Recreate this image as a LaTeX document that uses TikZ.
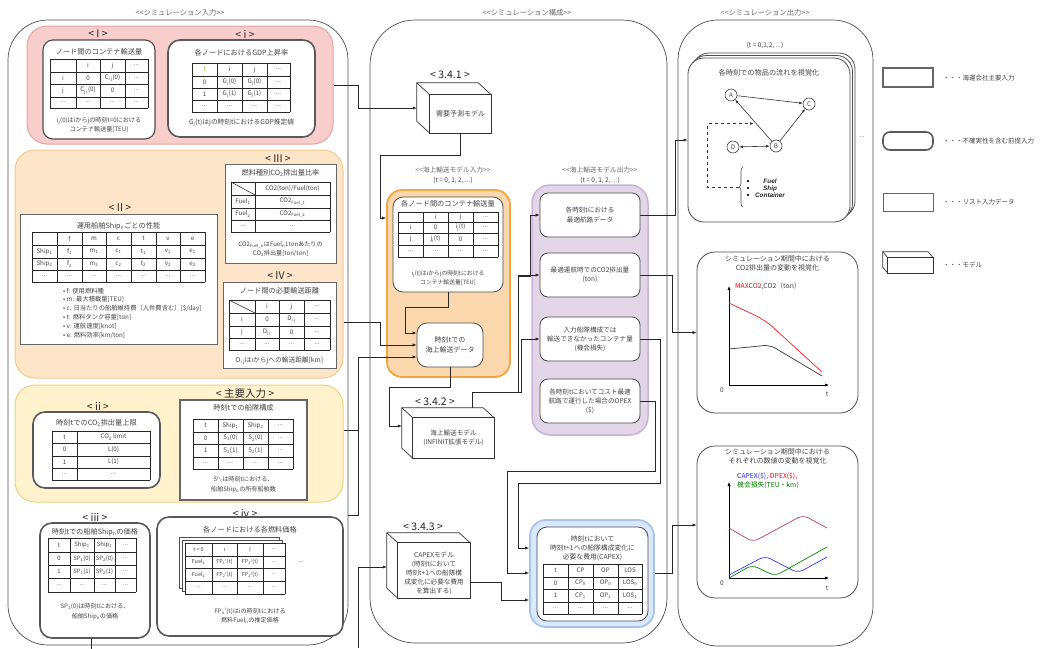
\documentclass[tikz,border=0pt]{standalone}
\usepackage{fontspec}
\setmainfont{Noto Sans CJK JP}
\newfontfamily\latinsans{Liberation Sans}
\usetikzlibrary{calc,arrows.meta,decorations.pathreplacing}

\definecolor{tg}{HTML}{444444}
\definecolor{tyel}{HTML}{C9A800}
\definecolor{pinkF}{HTML}{F8CECC}\definecolor{pinkD}{HTML}{E6A3A0}
\definecolor{peachF}{HTML}{FDE5CA}\definecolor{peachD}{HTML}{F3C98B}
\definecolor{yelF}{HTML}{FFF2CC}\definecolor{yelD}{HTML}{EED27F}
\definecolor{orF}{HTML}{FAD7AC}\definecolor{orD}{HTML}{F2A541}
\definecolor{purF}{HTML}{E1D5E7}\definecolor{purD}{HTML}{C9B3D6}
\definecolor{bluF}{HTML}{DAE8FC}\definecolor{bluD}{HTML}{A9C4EB}
\definecolor{crim}{HTML}{B5405F}

\newcommand\dd{...}
\newcommand\ssp[2]{\textsubscript{#1}\textsuperscript{#2}}

% grid table: #1 name prefix, #2 column edges, #3 row edges, #4 rows of cells
\newcommand\gtab[4]{%
  \pgfmathsetmacro\qxl{{#2}[0]}%
  \pgfmathsetmacro\qxr{{#2}[dim({#2})-1]}%
  \pgfmathsetmacro\qyt{{#3}[0]}%
  \pgfmathsetmacro\qyb{{#3}[dim({#3})-1]}%
  \foreach \qx in {#2} {\draw[tabline] (\qx,\qyt) -- (\qx,\qyb);}%
  \foreach \qy in {#3} {\draw[tabline] (\qxl,\qy) -- (\qxr,\qy);}%
  \foreach \qrow [count=\qr from 0] in {#4} {%
    \foreach \qcell [count=\qc from 0] in \qrow {%
      \pgfmathtruncatemacro\qcn{\qc+1}%
      \pgfmathtruncatemacro\qrn{\qr+1}%
      \pgfmathsetmacro\qxa{{#2}[\qc]}%
      \pgfmathsetmacro\qxb{{#2}[\qcn]}%
      \pgfmathsetmacro\qya{{#3}[\qr]}%
      \pgfmathsetmacro\qyb{{#3}[\qrn]}%
      \node[cell] (#1-\qr-\qc) at ({(\qxa+\qxb)/2},{(\qya+\qyb)/2}) {\qcell};%
    }%
  }%
}

% model block: #1 name, #2 x, #3 y, #4 w, #5 h, #6 dx, #7 dy, #8 text
\newcommand\cuboid[8]{%
  \path (#2,#3) node[minimum width=#4pt, minimum height=#5pt] (#1) {};
  \draw[face] (#1.south west) -- ++(#6,#7) -- ($(#1.north west)+(#6,#7)$)
     -- ($(#1.north east)+(#6,#7)$) -- (#1.north east) -- cycle;
  \draw[face] (#1.south west) rectangle (#1.north east);
  \draw[face] (#1.north west) -- ++(#6,#7);
  \node[mtxt] (#1-t) at (#1.center) {#8};
}

\begin{document}
\begin{tikzpicture}[x=1pt,y=-1pt,
  every node/.style={inner sep=0pt, text=tg},
  wh/.style 2 args={minimum width=#1pt, minimum height=#2pt},
  hdr/.style={font=\fontsize{7.3}{9}\selectfont, text=black!60},
  lbl/.style={font=\fontsize{10.5}{12}\selectfont, text=black!85},
  ttl/.style={font=\fontsize{7.2}{8}\selectfont},
  captx/.style={font=\fontsize{6.1}{9.5}\selectfont, align=center},
  cell/.style={font=\fontsize{6.2}{7}\selectfont},
  mtxt/.style={font=\fontsize{6.6}{9.5}\selectfont, align=center},
  tabline/.style={draw=black!85, line width=0.55pt},
  cont/.style={draw=black!70, line width=0.7pt, rounded corners=40pt},
  sect/.style={rounded corners=20pt, line width=1pt},
  rbox/.style={draw=black!70, line width=0.8pt, fill=white, rounded corners=10pt},
  ubox/.style={draw=black!65, line width=1.6pt, fill=white, rounded corners=12pt},
  lbox/.style={draw=black!60, line width=0.8pt, fill=white},
  mbox/.style={draw=black!60, line width=2.2pt, fill=white},
  face/.style={draw=black!80, line width=0.7pt, fill=white},
  link/.style={draw=black!85, line width=0.6pt},
  conn/.style={link, -{Latex[length=4pt,width=3.2pt]}},
  garr/.style={draw=black!80, line width=0.6pt, -{Latex[length=3.5pt,width=2.8pt]}},
  circ/.style={circle, draw=black!75, line width=0.6pt, minimum size=12pt, fill=white,
               font=\fontsize{6.3}{7}\selectfont},
  ax/.style={draw=black, line width=0.7pt, -{Latex[length=4pt,width=3.2pt]}},
  ltxt/.style={font=\fontsize{6.5}{7}\selectfont, anchor=west}
]
\useasboundingbox (0,0) rectangle (1051,648);

%================ simulation input =================
\node[hdr] (hIn) at (180,13) {<{}<シミュレーション入力>{}>};
\node[cont, wh={340}{625}] (inC) at (178,332.5) {};

% --- group I / i
\node[sect, fill=pinkF, draw=pinkD, wh={306}{118}] (secI) at (180,85) {};
\node[lbl] (lI) at (98,34) {< I >};
\node[lbl] (li) at (245,34) {< i >};

\node[rbox, line width=1.1pt, wh={112}{99}] (boxI) at (99,89.5) {};
\node[ttl] (boxI-t) at (99,52) {ノード間のコンテナ輸送量};
\gtab{tI}{50,76,100,125,148}{59,72,84,97,108}{{{},i,j,\dd},{i,0,C\textsubscript{i j}(0),\dd},{j,C\textsubscript{j i}(0),0,\dd},{\dd,\dd,\dd,\dd}}
\node[captx] (boxI-c) at (99,125) {i\textsubscript{j}(0)はiからjの時刻t=0における\\コンテナ輸送量[TEU]};

\node[ubox, wh={147}{97}] (boxi) at (241.5,88.5) {};
\node[ttl] (boxi-t) at (241.5,53) {各ノードにおけるGDP上昇率};
\gtab{ti}{192,217,242,267,290}{63,76,88,100,112}{{\textcolor{tyel}{t},i,j,\dd},{0,G\textsubscript{i}(0),G\textsubscript{j}(0),\dd},{1,G\textsubscript{i}(1),G\textsubscript{j}(1),\dd},{\dd,\dd,\dd,\dd}}
\node[captx, font=\fontsize{6.7}{8}\selectfont] (boxi-c) at (241.5,123) {G\textsubscript{j}(t)はjの時刻tにおけるGDP推定値};

% --- group II / III / IV
\node[sect, fill=peachF, draw=peachD, wh={328}{228}] (secII) at (179,264) {};
\node[lbl] (lII) at (120,208) {< II >};
\node[lbl] (lIII) at (278,159) {< III >};
\node[lbl] (lIV) at (280,276) {< IV >};

\node[lbox, wh={197}{130}] (boxII) at (118.5,279) {};
\node[ttl] (boxII-t) at (118.5,226) {運用船舶Ship\textsubscript{n}ごとの性能};
\gtab{tII}{32,57,82,106,131,156,180,205}{232,245,258,270,282}{{{},f,m,c,t,v,e},{Ship\textsubscript{1},f\textsubscript{1},m\textsubscript{1},c\textsubscript{1},t\textsubscript{1},v\textsubscript{1},e\textsubscript{1}},{Ship\textsubscript{2},f\textsubscript{2},m\textsubscript{2},c\textsubscript{2},t\textsubscript{2},v\textsubscript{2},e\textsubscript{2}},{\dd,\dd,\dd,\dd,\dd,\dd,\dd}}
\node[anchor=north west, align=left, font=\fontsize{6.3}{8.8}\selectfont] (boxII-l) at (63,287.5)
  {• f: 使用燃料種\\• m: 最大積載量[TEU]\\• c: 日当たりの船舶維持費（人件費含む）[\$/day]\\• t: 燃料タンク容量[ton]\\• v: 運航速度[knot]\\• e: 燃料効率[km/ton]};

\node[lbox, wh={111}{99}] (boxIII) at (280.5,213.5) {};
\node[ttl] (boxIII-t) at (280.5,173) {燃料種別CO\textsubscript{2}排出量比率};
\gtab{tIII}{231,255,330}{182,195,208,220,232}{{{},CO2(ton)/Fuel(ton)},{Fuel\textsubscript{1},CO2\textsubscript{Fuel\_1}},{Fuel\textsubscript{2},CO2\textsubscript{Fuel\_2}},{\dd,\dd}}
\draw[tabline] (tIII-0-0.center) ++(-12,-6.5) -- ++(24,13);
\node[captx] (boxIII-c) at (280.5,249) {CO2\textsubscript{Fuel\_n}はFuel\textsubscript{n}1tonあたりの\\CO\textsubscript{2}排出量[ton/ton]};

\node[lbox, wh={113}{86}] (boxIV) at (279.5,325) {};
\node[ttl] (boxIV-t) at (279.5,291) {ノード間の必要輸送距離};
\gtab{tIV}{229,255,279,304,330}{300,313,326,338,350}{{{},i,j,\dd},{i,0,D\textsubscript{i j},\dd},{j,D\textsubscript{j i},0,\dd},{\dd,\dd,\dd,\dd}}
\draw[tabline] (tIV-0-0.center) ++(-13,-6.5) -- ++(26,13);
\node[captx, font=\fontsize{6.7}{8}\selectfont] (boxIV-c) at (279.5,361) {D\textsubscript{i j}はiからjへの輸送距離[km]};

% --- group ii / main input
\node[sect, fill=yelF, draw=yelD, wh={328}{117}] (secii) at (179,443.5) {};
\node[lbl] (lii) at (98,406) {< ii >};
\node[lbl] (lmain) at (245,394) {< 主要入力 >};

\node[ubox, wh={127}{76}] (boxii) at (96.5,450) {};
\node[ttl] (boxii-t) at (96.5,423) {時刻tでのCO\textsubscript{2}排出量上限};
\gtab{tii}{52,77,150}{431,443,456,468,480}{{t,CO\textsubscript{2} limit},{0,L(0)},{1,L(1)},{\dd,\dd}}

\node[mbox, wh={127}{100}] (boxmain) at (243.5,450) {};
\node[ttl] (boxmain-t) at (243.5,408) {時刻tでの船隊構成};
\gtab{tmain}{193,218,243,268,293}{419,432,444,457,469}{{t,Ship\textsubscript{1},Ship\textsubscript{2},\dd},{0,S\textsubscript{1}(0),S\textsubscript{2}(0),\dd},{1,S\textsubscript{1}(1),S\textsubscript{2}(1),\dd},{\dd,\dd,\dd,\dd}}
\node[captx] (boxmain-c) at (243.5,484.5) {S\textsuperscript{n}\textsubscript{t}は時刻tにおける、\\船舶Ship\textsubscript{n}の所有船舶数};

% --- iii / iv
\node[lbl] (liii) at (95,517) {< iii >};
\node[lbl] (liv) at (245,513) {< iv >};

\node[ubox, wh={110}{115}] (boxiii) at (95,580.5) {};
\node[ttl] (boxiii-t) at (95,532) {時刻tでの船舶Ship\textsubscript{n}の価格};
\begin{scope}[cell/.style={font=\fontsize{5.9}{7}\selectfont}]
\gtab{tiii}{48,70,94,115,136}{538,552,565,578,592}{{t,Ship\textsubscript{1},Ship\textsubscript{2},\dd},{0,SP\textsubscript{1}(0),SP\textsubscript{2}(0),\dd},{1,SP\textsubscript{1}(1),SP\textsubscript{2}(1),\dd},{\dd,\dd,\dd,\dd}}
\end{scope}
\node[captx] (boxiii-c) at (95,611.5) {SP\textsubscript{1}(0)は時刻tにおける、\\船舶Ship\textsubscript{n}の価格};

\node[ubox, wh={186}{119}] (boxiv) at (250,576.5) {};
\node[ttl] (boxiv-t) at (250,530) {各ノードにおける各燃料価格};
\draw[lbox, draw=black!70] (179,537) rectangle (279,588);
\draw[lbox, draw=black!70] (182,540) rectangle (282,591);
\fill[white] (185,543) rectangle (285,594);
\begin{scope}[cell/.style={font=\fontsize{5.4}{7}\selectfont}]
\gtab{tiv}{185,212,237,263,285}{543,556,568,581,594}{{t = 0,i,j,\dd},{Fuel\textsubscript{1},FP\ssp{1}{i}(t),FP\ssp{1}{j}(t),\dd},{Fuel\textsubscript{2},FP\ssp{2}{i}(t),FP\ssp{2}{j}(t),\dd},{\dd,\dd,\dd,\dd}}
\end{scope}
\node[cell] (boxiv-more) at (301,562) {\dd};
\node[captx] (boxiv-c) at (250,615.5) {FP\ssp{n}{i}(t)はiの時刻tにおける\\燃料Fuel\textsubscript{n}の推定価格};

%================ simulation structure =================
\node[hdr] (hMid) at (527,13) {<{}<シミュレーション構成>{}>};
\node[cont, rounded corners=45pt, wh={297}{623}] (midC) at (518.5,331.5) {};

\node[lbl] (l341) at (450,75) {< 3.4.1 >};
\cuboid{m341}{460.5}{114}{61}{38}{-13}{-12}{\fontsize{7}{9}\selectfont 需要予測モデル}

\node[hdr, font=\fontsize{6.7}{8}\selectfont] (hMin) at (453,170) {<{}<海上輸送モデル入力>{}>};
\node[hdr, font=\fontsize{6.5}{8}\selectfont, text=black!75] (hMin2) at (453,180) {(t = 0, 1, 2, ...)};
\node[sect, rounded corners=15pt, fill=orF, draw=orD, line width=1.8pt, wh={123}{187}] (secM) at (448.5,283.5) {};
\node[rbox, wh={110}{95}] (boxC) at (448,244.5) {};
\node[ttl] (boxC-t) at (448,203.5) {各ノード間のコンテナ輸送量};
\gtab{tC}{398,423,448,473,498}{212,222,233,245,257}{{{},i,j,\dd},{i,0,i\textsubscript{j}(t),\dd},{j,j\textsubscript{i}(t),0,\dd},{\dd,\dd,\dd,\dd}}
\node[captx, font=\fontsize{5.8}{9.5}\selectfont] (boxC-c) at (448,278) {i\textsubscript{j}(t)はiからjの時刻tにおける\\コンテナ輸送量[TEU]};
\node[rbox, wh={66}{44}] (boxD) at (450,345) {};
\node[mtxt, font=\fontsize{7}{10}\selectfont] (boxD-t) at (450,345) {時刻tでの\\海上輸送データ};

\node[lbl] (l342) at (435,402) {< 3.4.2 >};
\cuboid{m342}{453.5}{438}{81}{40}{-11}{-10}{海上輸送モデル\\(INFINIT拡張モデル)}

\node[hdr, font=\fontsize{6.7}{8}\selectfont] (hMout) at (600,170) {<{}<海上輸送モデル出力>{}>};
\node[hdr, font=\fontsize{6.5}{8}\selectfont, text=black!75] (hMout2) at (600,180) {(t = 0, 1, 2, ...)};
\node[sect, rounded corners=18pt, fill=purF, draw=purD, line width=1.5pt, wh={116}{250}] (secP) at (590,310) {};
\node[rbox, rounded corners=8pt, wh={100}{44}] (P1) at (590,215) {};
\node[mtxt] (P1-t) at (590,215) {各時刻tにおける\\最適航路データ};
\node[rbox, rounded corners=8pt, wh={100}{44}] (P2) at (590,275) {};
\node[mtxt] (P2-t) at (590,275) {最適運航時でのCO2排出量\\(ton)};
\node[rbox, rounded corners=8pt, wh={100}{44}] (P3) at (590,339) {};
\node[mtxt, font=\fontsize{6.6}{9}\selectfont] (P3-t) at (590,339) {入力船隊構成では\\輸送できなかったコンテナ量\\(機会損失)};
\node[rbox, rounded corners=8pt, wh={100}{44}] (P4) at (590,401) {};
\node[mtxt, font=\fontsize{6.6}{9}\selectfont] (P4-t) at (590,401) {各時刻tにおいてコスト最適\\航路で運行した場合のOPEX\\(\$)};

\node[lbl] (l343) at (423,527) {< 3.4.3 >};
\cuboid{m343}{434}{570.5}{72}{55}{-11}{-10}{}
\node[mtxt, font=\fontsize{6.6}{9}\selectfont] (m343-x) at (434,573) {CAPEXモデル\\(時刻tにおいて\\時刻t+1への船隊構\\成変化に必要な費用\\を算出する)};

\node[sect, rounded corners=16pt, fill=bluF, draw=bluD, line width=1.8pt, wh={124}{107}] (secB) at (592,573.5) {};
\node[rbox, wh={111}{94}] (boxE) at (592.5,574) {};
\node[mtxt, font=\fontsize{6.8}{9}\selectfont] (boxE-t) at (592.5,548) {時刻tにおいて\\時刻t+1への船隊構成変化に\\必要な費用(CAPEX)};
\gtab{tE}{543,568,593,618,642}{564,577,589,602,614}{{t,CP,OP,LOS},{0,CP\textsubscript{0},OP\textsubscript{0},LOS\textsubscript{0}},{1,CP\textsubscript{1},OP\textsubscript{1},LOS\textsubscript{1}},{\dd,\dd,\dd,\dd}}

%================ simulation output =================
\node[hdr] (hOut) at (765,13) {<{}<シミュレーション出力>{}>};
\node[cont, wh={195}{626}] (outC) at (775.5,333) {};
\node[hdr, font=\fontsize{6.5}{8}\selectfont, text=black!75] (hOut2) at (765,45) {(t = 0,1,2, ...)};

% stacked frames of the flow view
\draw[rbox, rounded corners=16pt] (693,53) rectangle (855,217);
\draw[rbox, rounded corners=16pt] (690.5,55.5) rectangle (852.5,219.5);
\node[rbox, rounded corners=16pt, wh={162}{164}] (panel1) at (769,140) {};
\node[cell] (panel1-more) at (862,137) {\dd};
\node[ttl] (panel1-t) at (769,73) {各時刻での物品の流れを視覚化};
\node[circ] (A) at (731,95) {A};
\node[circ] (C) at (809,104) {C};
\node[circ] (D) at (733,147) {D};
\node[circ] (B) at (776,146) {B};
\draw[garr] (A) -- (C);
\draw[garr] (B) -- (A);
\draw[garr] (B) -- (C);
\draw[garr, {Latex[length=3.5pt,width=2.8pt]}-{Latex[length=3.5pt,width=2.8pt]}] (D) -- (B);
\draw[draw=black!70, line width=0.6pt, decorate, decoration={brace,amplitude=4pt}] (743,207) -- (743,167);
\coordinate (brtip) at (739,187);
\coordinate (mAB) at ($(A)!0.5!(B)$);
\draw[garr, dashed] (brtip) -| ($(mAB)+(-46,3)$) -- ($(mAB)+(0,3)$);
\foreach \by in {181,188,195} {\fill[black!85] (748,\by) ++(-0.9,-0.9) rectangle ++(1.8,1.8);}
\node[align=center, font=\latinsans\bfseries\itshape\fontsize{6.4}{7}\selectfont, text=black!85] (items) at (770,188) {Fuel\\Ship\\Container};

% CO2 chart
\node[rbox, rounded corners=18pt, wh={161}{161}] (panel2) at (777.5,332.5) {};
\node[ttl, align=center, font=\fontsize{7}{9}\selectfont] (panel2-t) at (777.5,263.5) {シミュレーション期間中における\\CO2排出量の変動を視覚化};
\node[ltxt, font=\fontsize{6.8}{8}\selectfont] (panel2-l) at (735,286) {\textcolor{red}{MAXCO2},CO2（ton）};
\coordinate (o2) at (729,385);
\draw[ax] (o2) -- (729,286);
\draw[ax] (o2) -- (829,385);
\node[cell, font=\fontsize{6.5}{8}\selectfont] (o2-l) at (722,390) {0};
\node[cell, font=\fontsize{6.5}{8}\selectfont] (t2-l) at (827,394) {t};
\draw[red!90, line width=0.7pt, rounded corners=10pt] (729,303) -- (765,320) -- (822,372);
\draw[black!80, line width=0.7pt, rounded corners=6pt] (729,349) -- (770,345) -- (822,376);

% cost chart
\node[rbox, rounded corners=18pt, wh={161}{152}] (panel3) at (777.5,522) {};
\node[ttl, align=center, font=\fontsize{7}{9}\selectfont] (panel3-t) at (777.5,456.5) {シミュレーション期間中における\\それぞれの数値の変動を視覚化};
\node[ltxt, align=left, font=\fontsize{6.8}{9}\selectfont] (panel3-l) at (737,480.5) {\textcolor{blue!85}{CAPEX(\$),} \textcolor{red}{OPEX(\$),}\\\textcolor{green!50!black}{機会損失(TEU・km)}};
\coordinate (o3) at (729,578);
\draw[ax] (o3) -- (729,482);
\draw[ax] (o3) -- (829,578);
\node[cell, font=\fontsize{6.5}{8}\selectfont] (o3-l) at (722,583) {0};
\node[cell, font=\fontsize{6.5}{8}\selectfont] (t3-l) at (827,588) {t};
\draw[crim, line width=0.7pt, rounded corners=6pt] (729,528) -- (753,542) -- (803,515) -- (827,528);
\draw[blue!80, line width=0.7pt, rounded corners=6pt] (729,575) -- (765,556) -- (798,573) -- (827,557);
\draw[green!55!black, line width=0.7pt, rounded corners=6pt] (729,578) -- (752,565) -- (775,576) -- (827,547);

%================ legend =================
\node[mbox, wh={50}{19}] (lg1) at (908,77.5) {};
\node[ltxt] (lg1-t) at (943,78) {・・・海運会社主要入力};
\node[ubox, rounded corners=7pt, wh={50}{18}] (lg2) at (908,141) {};
\node[ltxt] (lg2-t) at (943,141) {・・・不確実性を含む前提入力};
\node[lbox, wh={50}{18}] (lg3) at (908,202) {};
\node[ltxt] (lg3-t) at (943,202) {・・・リスト入力データ};
\cuboid{lg4}{910.5}{265.5}{45}{15}{-5}{-6}{}
\node[ltxt] (lg4-t) at (943,265) {・・・モデル};

%================ connectors =================
\draw[conn] (secI.east |- 0,85) -| (358,108) -- ($(m341.west)+(-13,-6)$);
\draw[conn] (m341.south) |- (380,155) |- (secM.west |- 0,218);
\draw[conn] (boxC.south) -- ++(0,15) -| (405,333) -- (boxD.west |- 0,333);
\draw[conn] (secII.east |- 0,322) -| (380,345) -- (boxD.west |- 0,345);
\draw[link] (secii.east |- 0,430) -- (358,430);
\draw[conn] (inC.east |- 0,515) -| (358,357) -- (boxD.west |- 0,357);
\draw[conn] (boxD.south) -- ++(0,20) -| (389,426) -- ($(m342.west)+(-11,-12)$);
\coordinate (m342top) at ($(m342.north)+(18.5,-10)$);
\draw[conn] (m342top) |- (518,392) |- (P2.west);
\draw[conn] (m342top) |- (521,392) |- (P3.west);
\draw[conn] (m342top) |- (518,392) |- (530,276) |- (P1.west);
\draw[conn] (P1.east) -- ++(35,0) |- (panel1.west);
\draw[conn] (P2.east) -- ++(32,0) |- (panel2.west);
\draw[conn] (P3.east) -| (660,483) -| (518,548) -- (secB.west |- 0,548);
\draw[conn] (P4.east) -| (655,471) -| (507,573) -- (secB.west |- 0,573);
\draw[conn] (m343.east |- 0,582) -| (501,600) -- (secB.west |- 0,600);
\draw[conn] (secB.east) -| (672,525) -- (panel3.west |- 0,525);
\coordinate (bottomIn) at (358,648);
\draw[conn] (bottomIn) |- ($(m343.west)+(-11,-3.5)$);
\coordinate (bottomIII) at ($(boxiii.south)+(-4,10)$);
\draw[link] ($(boxiii.south)+(-4,0)$) -- (bottomIII);
\end{tikzpicture}
\end{document}
